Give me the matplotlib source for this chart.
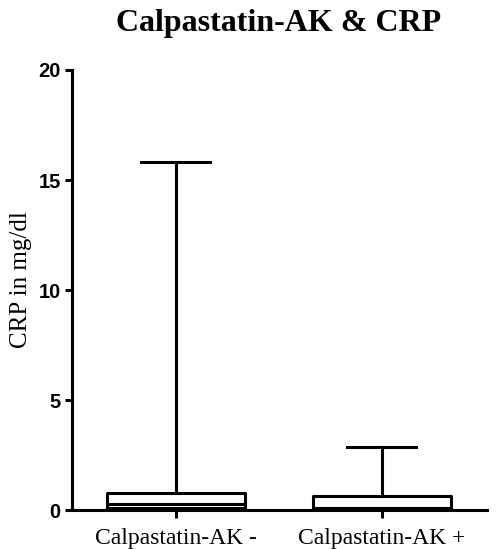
import matplotlib
matplotlib.use("Agg")
import matplotlib.pyplot as plt

categories = ["Calpastatin-AK -", "Calpastatin-AK +"]
whisker_low = [0.0, 0.0]
q1 = [0.1, 0.08]
median = [0.26, 0.1]
q3 = [0.78, 0.66]
whisker_high = [15.8, 2.88]
yticks = [0, 5, 10, 15, 20]

fig = plt.figure(figsize=(5.03, 5.49), dpi=100)
ax = fig.add_axes([0.143, 0.071, 0.825, 0.8015])

stats = []
for i, c in enumerate(categories):
    stats.append(dict(label=c, whislo=whisker_low[i], q1=q1[i], med=median[i],
                      q3=q3[i], whishi=whisker_high[i], fliers=[]))

lw = 2.2
ax.bxp(stats, positions=[0, 1], widths=0.67, showfliers=False,
       boxprops=dict(color="black", linewidth=lw),
       whiskerprops=dict(color="black", linewidth=lw),
       capprops=dict(color="black", linewidth=lw),
       medianprops=dict(color="black", linewidth=lw),
       capwidths=0.335)

ax.set_xlim(-0.505, 1.51)
ax.set_ylim(0, 20)
ax.set_yticks(yticks)
ax.set_yticklabels([str(v) for v in yticks], fontfamily="Liberation Sans",
                   fontweight="bold", fontsize=14.5)
ax.set_xticks([0, 1])
ax.set_xticklabels(categories, fontfamily="Liberation Serif", fontsize=17)
for s in ["top", "right"]:
    ax.spines[s].set_visible(False)
for s in ["left", "bottom"]:
    ax.spines[s].set_linewidth(2.2)
ax.tick_params(axis="y", direction="out", length=5, width=2.2, pad=3)
ax.tick_params(axis="x", direction="out", length=5.5, width=2.2, pad=7.5)
ax.set_ylabel("CRP in mg/dl", fontfamily="Liberation Serif", fontsize=18)
ax.yaxis.set_label_coords(-0.096, 0.523)
fig.text(0.553, 0.957, "Calpastatin-AK & CRP", fontfamily="Liberation Serif",
         fontweight="bold", fontsize=23, ha="center", va="center")

fig.savefig("out.png", dpi=100)
